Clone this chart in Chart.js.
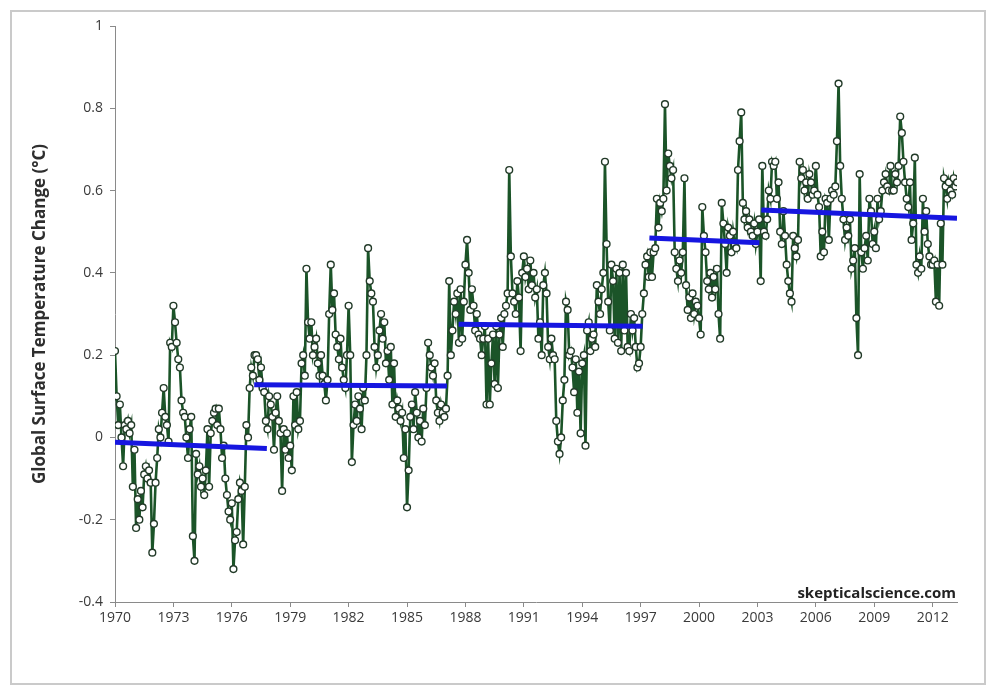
<!DOCTYPE html>
<html>
<head>
<meta charset="utf-8">
<script src="https://cdn.jsdelivr.net/npm/chart.js@4.4.0/dist/chart.umd.min.js"></script>
<style>
body{margin:0;background:#fff;}
#frame{position:absolute;left:10px;top:10px;width:972px;height:671px;border:2px solid #cacaca;}
#wrap{position:absolute;left:0;top:0;width:992px;height:686px;}
</style>
</head>
<body>
<div id="frame"></div>
<div id="wrap"><canvas id="chart"></canvas></div>
<script>
// monthly anomalies, Jan 1970 .. Apr 2013
var startYear = 1970;
var anomaly = [
 0.21, 0.10, 0.03, 0.08, 0.00,-0.07, 0.03, 0.02, 0.04, 0.01, 0.03,-0.12, // 1970
-0.03,-0.22,-0.15,-0.20,-0.13,-0.17,-0.09,-0.07,-0.10,-0.08,-0.11,-0.28, // 1971
-0.21,-0.11,-0.05, 0.02, 0.00, 0.06, 0.12, 0.05, 0.03,-0.01, 0.23, 0.22, // 1972
 0.32, 0.28, 0.23, 0.19, 0.17, 0.09, 0.06, 0.05, 0.00,-0.05, 0.02, 0.05, // 1973
-0.24,-0.30,-0.04,-0.09,-0.07,-0.12,-0.10,-0.14,-0.08, 0.02,-0.12, 0.01, // 1974
 0.04, 0.06, 0.07, 0.03, 0.07, 0.02,-0.05,-0.02,-0.10,-0.14,-0.18,-0.20, // 1975
-0.16,-0.32,-0.25,-0.23,-0.15,-0.11,-0.13,-0.26,-0.12, 0.03, 0.00, 0.12, // 1976
 0.17, 0.15, 0.20, 0.20, 0.19, 0.14, 0.17, 0.12, 0.11, 0.04, 0.02, 0.10, // 1977
 0.08, 0.05,-0.03, 0.06, 0.10, 0.04, 0.01,-0.13, 0.02,-0.03, 0.01,-0.05, // 1978
-0.02,-0.08, 0.10, 0.03, 0.11, 0.02, 0.04, 0.18, 0.20, 0.15, 0.41, 0.28, // 1979
 0.24, 0.28, 0.20, 0.22, 0.24, 0.18, 0.15, 0.20, 0.15, 0.13, 0.09, 0.14, // 1980
 0.30, 0.42, 0.31, 0.35, 0.25, 0.22, 0.19, 0.24, 0.17, 0.14, 0.12, 0.20, // 1981
 0.32, 0.20,-0.06, 0.03, 0.08, 0.04, 0.10, 0.07, 0.02, 0.12, 0.09, 0.20, // 1982
 0.46, 0.38, 0.35, 0.33, 0.22, 0.17, 0.20, 0.26, 0.30, 0.24, 0.28, 0.18, // 1983
 0.21, 0.14, 0.22, 0.08, 0.18, 0.05, 0.09, 0.07, 0.04, 0.06,-0.05, 0.02, // 1984
-0.17,-0.08, 0.05, 0.08, 0.02, 0.11, 0.06, 0.00, 0.04,-0.01, 0.07, 0.03, // 1985
 0.12, 0.23, 0.20, 0.17, 0.15, 0.18, 0.09, 0.06, 0.04, 0.08, 0.06, 0.05, // 1986
 0.07, 0.15, 0.38, 0.20, 0.26, 0.33, 0.30, 0.35, 0.23, 0.36, 0.24, 0.33, // 1987
 0.42, 0.48, 0.40, 0.31, 0.36, 0.32, 0.26, 0.30, 0.25, 0.24, 0.20, 0.24, // 1988
 0.27, 0.08, 0.24, 0.08, 0.18, 0.25, 0.13, 0.27, 0.12, 0.25, 0.29, 0.22, // 1989
 0.30, 0.32, 0.35, 0.65, 0.44, 0.35, 0.33, 0.30, 0.38, 0.34, 0.21, 0.40, // 1990
 0.44, 0.39, 0.41, 0.36, 0.43, 0.37, 0.40, 0.34, 0.36, 0.24, 0.28, 0.20, // 1991
 0.37, 0.40, 0.35, 0.22, 0.19, 0.24, 0.20, 0.19, 0.04,-0.01,-0.04, 0.00, // 1992
 0.09, 0.14, 0.33, 0.31, 0.20, 0.21, 0.17, 0.11, 0.19, 0.06, 0.16, 0.01, // 1993
 0.18, 0.20,-0.02, 0.26, 0.28, 0.21, 0.24, 0.25, 0.22, 0.37, 0.33, 0.30, // 1994
 0.36, 0.40, 0.67, 0.47, 0.33, 0.26, 0.42, 0.38, 0.24, 0.41, 0.23, 0.40, // 1995
 0.21, 0.42, 0.26, 0.40, 0.22, 0.21, 0.30, 0.26, 0.29, 0.22, 0.17, 0.18, // 1996
 0.22, 0.30, 0.35, 0.42, 0.44, 0.39, 0.45, 0.39, 0.45, 0.46, 0.58, 0.51, // 1997
 0.57, 0.55, 0.58, 0.81, 0.60, 0.69, 0.66, 0.63, 0.65, 0.45, 0.41, 0.38, // 1998
 0.43, 0.40, 0.45, 0.63, 0.37, 0.31, 0.34, 0.29, 0.35, 0.30, 0.33, 0.32, // 1999
 0.29, 0.25, 0.56, 0.49, 0.45, 0.38, 0.36, 0.40, 0.34, 0.39, 0.36, 0.41, // 2000
 0.30, 0.24, 0.57, 0.52, 0.47, 0.40, 0.51, 0.49, 0.45, 0.50, 0.47, 0.46, // 2001
 0.65, 0.72, 0.79, 0.57, 0.53, 0.55, 0.51, 0.53, 0.50, 0.49, 0.52, 0.47, // 2002
 0.50, 0.53, 0.38, 0.66, 0.50, 0.49, 0.53, 0.60, 0.58, 0.67, 0.66, 0.67, // 2003
 0.58, 0.62, 0.50, 0.47, 0.55, 0.49, 0.42, 0.38, 0.35, 0.33, 0.49, 0.46, // 2004
 0.44, 0.48, 0.67, 0.63, 0.65, 0.60, 0.62, 0.58, 0.64, 0.62, 0.59, 0.60, // 2005
 0.66, 0.59, 0.56, 0.44, 0.50, 0.45, 0.58, 0.57, 0.48, 0.58, 0.60, 0.59, // 2006
 0.61, 0.72, 0.86, 0.66, 0.58, 0.53, 0.48, 0.51, 0.49, 0.53, 0.41, 0.43, // 2007
 0.46, 0.29, 0.20, 0.64, 0.45, 0.41, 0.46, 0.49, 0.43, 0.58, 0.55, 0.47, // 2008
 0.50, 0.46, 0.58, 0.53, 0.55, 0.60, 0.62, 0.64, 0.61, 0.60, 0.66, 0.60, // 2009
 0.60, 0.64, 0.62, 0.66, 0.78, 0.74, 0.67, 0.62, 0.58, 0.56, 0.62, 0.48, // 2010
 0.52, 0.68, 0.42, 0.40, 0.44, 0.41, 0.58, 0.50, 0.55, 0.47, 0.44, 0.42, // 2011
 0.42, 0.43, 0.33, 0.42, 0.32, 0.52, 0.42, 0.63, 0.61, 0.58, 0.62, 0.60, // 2012
 0.59, 0.63, 0.61, 0.62                                                  // 2013
];

// escalator steps (blue)
var stepStart    = [1970.0, 1977.15, 1987.65, 1997.45, 2003.2];
var stepEnd      = [1977.8, 1987.05, 1997.1, 2003.1, 2013.25];
var stepStartVal = [-0.012, 0.128, 0.275, 0.485, 0.553];
var stepEndVal   = [-0.027, 0.125, 0.270, 0.473, 0.533];

var tickYears = [1970,1973,1976,1979,1982,1985,1988,1991,1994,1997,2000,2003,2006,2009,2012];
var yTicks = [-0.4,-0.2,0,0.2,0.4,0.6,0.8,1];

var points = [];
for (var i = 0; i < anomaly.length; i++) {
	points.push({x: startYear + i/12, y: anomaly[i]});
}

var datasets = [];
for (var j = 0; j < stepStart.length; j++) {
	datasets.push({
		data: [{x: stepStart[j], y: stepStartVal[j]}, {x: stepEnd[j], y: stepEndVal[j]}],
		borderColor: '#1616e0',
		borderWidth: 5,
		pointRadius: 0,
		order: 0
	});
}
datasets.push({
	data: points,
	borderColor: '#1b5428',
	borderWidth: 2.6,
	pointRadius: 3.4,
	pointBorderWidth: 1.4,
	pointBorderColor: '#223a28',
	pointBackgroundColor: '#ffffff',
	order: 1
});

var watermark = {
	id: 'watermark',
	afterDraw: function(chart){
		var ctx = chart.ctx, a = chart.chartArea;
		ctx.save();
		ctx.font = 'bold 15px "Open Sans"';
		ctx.fillStyle = '#222';
		ctx.textAlign = 'right';
		ctx.textBaseline = 'alphabetic';
		ctx.fillText('skepticalscience.com', a.right - 1, a.bottom - 4);
		ctx.restore();
	}
};

var tickFont = {family: '"Open Sans"', size: 14};

new Chart(document.getElementById('chart'), {
	type: 'line',
	data: {datasets: datasets},
	plugins: [watermark],
	options: {
		responsive: true,
		maintainAspectRatio: false,
		animation: false,
		layout: {padding: {top: 26, right: 35, left: 0, bottom: 0}},
		plugins: {legend: {display: false}, tooltip: {enabled: false}},
		scales: {
			x: {
				type: 'linear',
				min: 1970,
				max: 2013.25,
				afterBuildTicks: function(s){ s.ticks = tickYears.map(function(v){ return {value: v}; }); },
				afterFit: function(s){ s.height = 84; },
				ticks: {
					autoSkip: false, maxRotation: 0, padding: 3,
					color: '#3a3a3a', font: tickFont,
					callback: function(v){ return String(v); }
				},
				grid: {drawOnChartArea: false, tickLength: 5, color: '#8a8a8a'},
				border: {color: '#8a8a8a'}
			},
			y: {
				min: -0.4,
				max: 1,
				afterBuildTicks: function(s){ s.ticks = yTicks.map(function(v){ return {value: v}; }); },
				afterFit: function(s){ s.width = 115; },
				ticks: {
					padding: 7, color: '#3a3a3a', font: tickFont,
					callback: function(v){ return String(Math.round(v*10)/10); }
				},
				grid: {drawOnChartArea: false, tickLength: 5, color: '#8a8a8a'},
				border: {color: '#8a8a8a'},
				title: {
					display: true,
					text: 'Global Surface Temperature Change (°C)',
					color: '#2e2e2e',
					font: {family: '"Open Sans"', size: 17, weight: 'bold'},
					padding: {top: 30, bottom: 0}
				}
			}
		}
	}
});
</script>
</body>
</html>
